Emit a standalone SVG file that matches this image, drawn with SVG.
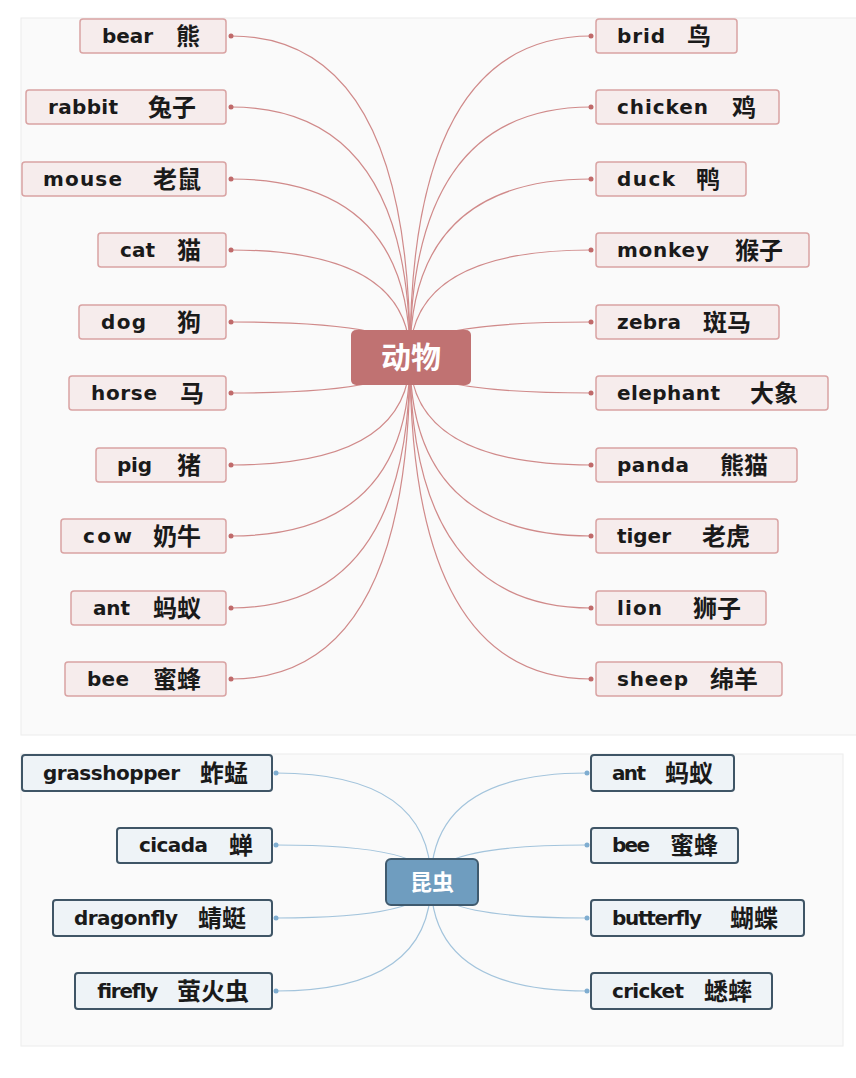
<svg xmlns="http://www.w3.org/2000/svg" width="856" height="1078" viewBox="0 0 856 1078">
<style>
.panel{fill:#fafafa;stroke:#ececec;stroke-width:1}
.rb{fill:#f6ecec;stroke:#d9a3a3;stroke-width:1.5}
.bb{fill:#eef3f7;stroke:#3f5566;stroke-width:2}
.en{font-family:"DejaVu Sans","Noto Sans CJK SC",sans-serif;font-weight:bold;font-size:20px;fill:#1a1a1a}
.zh{font-family:"Noto Sans CJK SC",sans-serif;font-weight:bold;font-size:24px;fill:#1a1a1a}
.rl{fill:none;stroke:#d08a8a;stroke-width:1.2}
.bl{fill:none;stroke:#a3c4dc;stroke-width:1.2}
.rd{fill:#c06a6a}
.bd{fill:#7fadd0}
.ct{font-family:"Noto Sans CJK SC",sans-serif;font-weight:bold;fill:#ffffff;text-anchor:middle}
</style>
<rect width="856" height="1078" fill="#ffffff"/>
<rect class="panel" x="21" y="18" width="840" height="717"/>
<rect class="panel" x="21" y="754" width="822" height="292"/>
<g id="connectors-top">
<path class="rl" d="M231,36 Q410,36 410,357"/>
<path class="rl" d="M231,107 Q410,107 410,357"/>
<path class="rl" d="M231,179 Q410,179 410,357"/>
<path class="rl" d="M231,250 Q410,250 410,357"/>
<path class="rl" d="M231,322 Q410,322 410,357"/>
<path class="rl" d="M231,393 Q410,393 410,357"/>
<path class="rl" d="M231,465 Q410,465 410,357"/>
<path class="rl" d="M231,536 Q410,536 410,357"/>
<path class="rl" d="M231,608 Q410,608 410,357"/>
<path class="rl" d="M231,679 Q410,679 410,357"/>
<path class="rl" d="M591,36 Q410,36 410,357"/>
<path class="rl" d="M591,107 Q410,107 410,357"/>
<path class="rl" d="M591,179 Q410,179 410,357"/>
<path class="rl" d="M591,250 Q410,250 410,357"/>
<path class="rl" d="M591,322 Q410,322 410,357"/>
<path class="rl" d="M591,393 Q410,393 410,357"/>
<path class="rl" d="M591,465 Q410,465 410,357"/>
<path class="rl" d="M591,536 Q410,536 410,357"/>
<path class="rl" d="M591,608 Q410,608 410,357"/>
<path class="rl" d="M591,679 Q410,679 410,357"/>
<g class="rd">
<circle cx="231" cy="36" r="2.5"/><circle cx="231" cy="107" r="2.5"/><circle cx="231" cy="179" r="2.5"/><circle cx="231" cy="250" r="2.5"/><circle cx="231" cy="322" r="2.5"/><circle cx="231" cy="393" r="2.5"/><circle cx="231" cy="465" r="2.5"/><circle cx="231" cy="536" r="2.5"/><circle cx="231" cy="608" r="2.5"/><circle cx="231" cy="679" r="2.5"/>
<circle cx="591" cy="36" r="2.5"/><circle cx="591" cy="107" r="2.5"/><circle cx="591" cy="179" r="2.5"/><circle cx="591" cy="250" r="2.5"/><circle cx="591" cy="322" r="2.5"/><circle cx="591" cy="393" r="2.5"/><circle cx="591" cy="465" r="2.5"/><circle cx="591" cy="536" r="2.5"/><circle cx="591" cy="608" r="2.5"/><circle cx="591" cy="679" r="2.5"/>
</g>
</g>
<g id="connectors-bottom">
<path class="bl" d="M276,773 Q431,773 431,882"/>
<path class="bl" d="M276,845 Q431,845 431,882"/>
<path class="bl" d="M276,918 Q431,918 431,882"/>
<path class="bl" d="M276,991 Q431,991 431,882"/>
<path class="bl" d="M587,773 Q431,773 431,882"/>
<path class="bl" d="M587,845 Q431,845 431,882"/>
<path class="bl" d="M587,918 Q431,918 431,882"/>
<path class="bl" d="M587,991 Q431,991 431,882"/>
<g class="bd">
<circle cx="276" cy="773" r="2.5"/><circle cx="276" cy="845" r="2.5"/><circle cx="276" cy="918" r="2.5"/><circle cx="276" cy="991" r="2.5"/>
<circle cx="587" cy="773" r="2.5"/><circle cx="587" cy="845" r="2.5"/><circle cx="587" cy="918" r="2.5"/><circle cx="587" cy="991" r="2.5"/>
</g>
</g>
<g id="center-animals">
<rect x="351" y="330" width="120" height="55" rx="5" fill="#c07272"/>
<text class="ct" x="411" y="368" font-size="30">动物</text>
</g>
<g id="center-insects">
<rect x="386" y="859" width="92" height="46" rx="5" fill="#6f9dbf" stroke="#3f5a6e" stroke-width="2"/>
<text class="ct" x="432" y="890" font-size="22">昆虫</text>
</g>
<g id="n-bear"><rect class="rb" x="80" y="19" width="146" height="34" rx="3"/><text class="en" x="102" y="43" textLength="51">bear</text><text class="zh" x="176" y="44.5">熊</text></g>
<g id="n-rabbit"><rect class="rb" x="26" y="90" width="200" height="34" rx="3"/><text class="en" x="48" y="114" textLength="70">rabbit</text><text class="zh" x="148" y="115.5">兔子</text></g>
<g id="n-mouse"><rect class="rb" x="22" y="162" width="204" height="34" rx="3"/><text class="en" x="43" y="186" textLength="79">mouse</text><text class="zh" x="153" y="187.5">老鼠</text></g>
<g id="n-cat"><rect class="rb" x="98" y="233" width="128" height="34" rx="3"/><text class="en" x="120" y="257" textLength="35">cat</text><text class="zh" x="177" y="258.5">猫</text></g>
<g id="n-dog"><rect class="rb" x="79" y="305" width="147" height="34" rx="3"/><text class="en" x="101" y="329" textLength="45">dog</text><text class="zh" x="177" y="330.5">狗</text></g>
<g id="n-horse"><rect class="rb" x="69" y="376" width="157" height="34" rx="3"/><text class="en" x="91" y="400" textLength="66">horse</text><text class="zh" x="180" y="401.5">马</text></g>
<g id="n-pig"><rect class="rb" x="96" y="448" width="130" height="34" rx="3"/><text class="en" x="117" y="472" textLength="35">pig</text><text class="zh" x="177" y="473.5">猪</text></g>
<g id="n-cow"><rect class="rb" x="61" y="519" width="165" height="34" rx="3"/><text class="en" x="83" y="543" textLength="49">cow</text><text class="zh" x="153" y="544.5">奶牛</text></g>
<g id="n-ant1"><rect class="rb" x="71" y="591" width="155" height="34" rx="3"/><text class="en" x="93" y="615" textLength="37">ant</text><text class="zh" x="153" y="616.5">蚂蚁</text></g>
<g id="n-bee1"><rect class="rb" x="65" y="662" width="161" height="34" rx="3"/><text class="en" x="87" y="686" textLength="42">bee</text><text class="zh" x="153" y="687.5">蜜蜂</text></g>
<g id="n-brid"><rect class="rb" x="596" y="19" width="141" height="34" rx="3"/><text class="en" x="617" y="43" textLength="48">brid</text><text class="zh" x="687" y="44.5">鸟</text></g>
<g id="n-chicken"><rect class="rb" x="596" y="90" width="183" height="34" rx="3"/><text class="en" x="617" y="114" textLength="91">chicken</text><text class="zh" x="732" y="115.5">鸡</text></g>
<g id="n-duck"><rect class="rb" x="596" y="162" width="150" height="34" rx="3"/><text class="en" x="617" y="186" textLength="58">duck</text><text class="zh" x="696" y="187.5">鸭</text></g>
<g id="n-monkey"><rect class="rb" x="596" y="233" width="213" height="34" rx="3"/><text class="en" x="617" y="257" textLength="92">monkey</text><text class="zh" x="735" y="258.5">猴子</text></g>
<g id="n-zebra"><rect class="rb" x="596" y="305" width="183" height="34" rx="3"/><text class="en" x="617" y="329" textLength="64">zebra</text><text class="zh" x="703" y="330.5">斑马</text></g>
<g id="n-elephant"><rect class="rb" x="596" y="376" width="232" height="34" rx="3"/><text class="en" x="617" y="400" textLength="103">elephant</text><text class="zh" x="750" y="401.5">大象</text></g>
<g id="n-panda"><rect class="rb" x="596" y="448" width="201" height="34" rx="3"/><text class="en" x="617" y="472" textLength="72">panda</text><text class="zh" x="720" y="473.5">熊猫</text></g>
<g id="n-tiger"><rect class="rb" x="596" y="519" width="182" height="34" rx="3"/><text class="en" x="617" y="543" textLength="54">tiger</text><text class="zh" x="702" y="544.5">老虎</text></g>
<g id="n-lion"><rect class="rb" x="596" y="591" width="170" height="34" rx="3"/><text class="en" x="617" y="615" textLength="45">lion</text><text class="zh" x="693" y="616.5">狮子</text></g>
<g id="n-sheep"><rect class="rb" x="596" y="662" width="186" height="34" rx="3"/><text class="en" x="617" y="686" textLength="71">sheep</text><text class="zh" x="710" y="687.5">绵羊</text></g>
<g id="n-grasshopper"><rect class="bb" x="22" y="755" width="250" height="36" rx="3"/><text class="en" x="43" y="780" textLength="137">grasshopper</text><text class="zh" x="200" y="781.5">蚱蜢</text></g>
<g id="n-cicada"><rect class="bb" x="117" y="828" width="155" height="35" rx="3"/><text class="en" x="139" y="852" textLength="69">cicada</text><text class="zh" x="229" y="853.5">蝉</text></g>
<g id="n-dragonfly"><rect class="bb" x="53" y="900" width="219" height="36" rx="3"/><text class="en" x="74" y="925" textLength="104">dragonfly</text><text class="zh" x="198" y="926.5">蜻蜓</text></g>
<g id="n-firefly"><rect class="bb" x="75" y="973" width="197" height="36" rx="3"/><text class="en" x="96" y="998" textLength="61">firefly</text><text class="zh" x="177" y="999.5">萤火虫</text></g>
<g id="n-ant2"><rect class="bb" x="591" y="755" width="143" height="36" rx="3"/><text class="en" x="612" y="780" textLength="34">ant</text><text class="zh" x="665" y="781.5">蚂蚁</text></g>
<g id="n-bee2"><rect class="bb" x="591" y="828" width="147" height="35" rx="3"/><text class="en" x="612" y="852" textLength="38">bee</text><text class="zh" x="670" y="853.5">蜜蜂</text></g>
<g id="n-butterfly"><rect class="bb" x="591" y="900" width="213" height="36" rx="3"/><text class="en" x="612" y="925" textLength="90">butterfly</text><text class="zh" x="730" y="926.5">蝴蝶</text></g>
<g id="n-cricket"><rect class="bb" x="591" y="973" width="181" height="36" rx="3"/><text class="en" x="612" y="998" textLength="72">cricket</text><text class="zh" x="704" y="999.5">蟋蟀</text></g>
</svg>
